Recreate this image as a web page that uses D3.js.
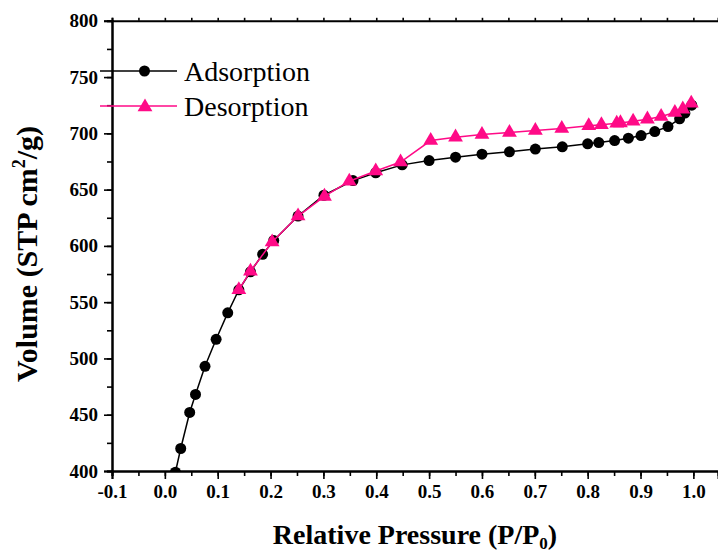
<!DOCTYPE html>
<html>
<head>
<meta charset="utf-8">
<script src="https://cdn.jsdelivr.net/npm/d3@7"></script>
<style>
  body { margin: 0; background: #fff; }
  svg { display: block; }
</style>
</head>
<body>
<svg width="718" height="554"></svg>
<script>
// relative pressure / volume
var adsP = [0.020, 0.030, 0.047, 0.058, 0.076, 0.097, 0.119, 0.140, 0.162, 0.185, 0.206, 0.252,
            0.301, 0.356, 0.399, 0.449, 0.500, 0.550, 0.600, 0.652, 0.701, 0.752, 0.800, 0.821,
            0.851, 0.877, 0.901, 0.927, 0.952, 0.974, 0.984, 0.997];
var adsV = [399, 420, 452, 468, 493, 517, 540.5, 561, 577, 592.5, 604.8, 626.5,
            645, 658, 665, 672, 675.8, 678.8, 681.5, 683.6, 686, 688, 690.7, 691.8,
            693.6, 695.7, 698, 701.6, 706, 712.9, 718, 725];
var desP = [0.996, 0.980, 0.965, 0.939, 0.913, 0.886, 0.862, 0.855, 0.826, 0.802, 0.751, 0.701,
            0.652, 0.600, 0.550, 0.503, 0.446, 0.399, 0.349, 0.302, 0.252, 0.203, 0.162, 0.140];
var desV = [726.8, 721.5, 718.5, 715, 712.6, 710.8, 709.3, 709, 707.6, 706.7, 704.3, 702.5,
            700.8, 699, 696.6, 693.6, 674.5, 666.5, 657.5, 644, 626.5, 603.5, 577.5, 561];
var xTicks = [-0.1, 0.0, 0.1, 0.2, 0.3, 0.4, 0.5, 0.6, 0.7, 0.8, 0.9, 1.0];
var yTicks = [400, 450, 500, 550, 600, 650, 700, 750, 800];
var seriesNames = ["Adsorption", "Desorption"];

var isotherm = {

    show : function() {
        var ads = adsP.map(function(p, i) { return {p: p, v: adsV[i]}; });
        var des = desP.map(function(p, i) { return {p: p, v: desV[i]}; });
        isotherm.dataViz(ads, des);
    },

    dataViz : function(ads, des) {
        var svg = d3.select("svg");
        var pink = "#ff0a87";
        var font = "'Liberation Serif', 'Times New Roman', serif";

        var x = d3.scaleLinear().domain([-0.1, 1.0466]).range([112, 718]);
        var y = d3.scaleLinear().domain([400, 800]).range([471, 20.8]);

        svg.append("defs").append("clipPath").attr("id", "plotClip")
            .append("rect")
            .attr("x", x(-0.1)).attr("y", y(800))
            .attr("width", x(1.0466) - x(-0.1)).attr("height", y(400) - y(800));

        // minor ticks every 0.05 / 25
        var xMinor = d3.range(-2, 21).map(function(i) { return i / 20; });
        var yMinor = d3.range(16, 33).map(function(i) { return i * 25; });
        var fmt = function(d) { return d3.format(".1f")(d).replace("\u2212", "-"); };

        svg.append("g").attr("class", "axis")
            .attr("transform", "translate(0," + y(400) + ")")
            .call(d3.axisBottom(x).tickValues(xMinor).tickSize(5).tickFormat(""));
        svg.append("g").attr("class", "axis xlab")
            .attr("transform", "translate(0," + y(400) + ")")
            .call(d3.axisBottom(x).tickValues(xTicks).tickSize(8).tickPadding(6).tickFormat(fmt));
        svg.append("g").attr("class", "axis")
            .attr("transform", "translate(0," + y(800) + ")")
            .call(d3.axisBottom(x).tickValues(xMinor).tickSize(-3).tickFormat(""));

        svg.append("g").attr("class", "axis")
            .attr("transform", "translate(" + x(-0.1) + ",0)")
            .call(d3.axisLeft(y).tickValues(yMinor).tickSize(5).tickFormat(""));
        svg.append("g").attr("class", "axis ylab")
            .attr("transform", "translate(" + x(-0.1) + ",0)")
            .call(d3.axisLeft(y).tickValues(yTicks).tickSize(8).tickPadding(6));

        svg.selectAll(".axis path.domain").attr("stroke", "#000").attr("stroke-width", 2);
        svg.selectAll(".axis line").attr("stroke", "#000").attr("stroke-width", 1.6);
        svg.selectAll(".axis text")
            .style("font-family", font).style("font-weight", "bold")
            .style("font-size", "19px").attr("fill", "#000");

        var line = d3.line().x(function(d) { return x(d.p); }).y(function(d) { return y(d.v); });
        var plot = svg.append("g").attr("clip-path", "url(#plotClip)");

        plot.append("path").datum(ads)
            .attr("d", line).attr("fill", "none")
            .attr("stroke", "#000").attr("stroke-width", 1.5);
        plot.selectAll("circle.ads").data(ads).enter().append("circle")
            .attr("class", "ads")
            .attr("cx", function(d) { return x(d.p); })
            .attr("cy", function(d) { return y(d.v); })
            .attr("r", 5.5).attr("fill", "#000");

        var tri = d3.symbol().type(d3.symbolTriangle).size(95);
        plot.append("path").datum(des)
            .attr("d", line).attr("fill", "none")
            .attr("stroke", pink).attr("stroke-width", 1.5);
        plot.selectAll("path.des").data(des).enter().append("path")
            .attr("class", "des")
            .attr("transform", function(d) { return "translate(" + x(d.p) + "," + y(d.v) + ")"; })
            .attr("d", tri).attr("fill", pink);

        // legend
        var legend = svg.append("g");
        var legY = [71, 106];
        legend.selectAll("line").data(seriesNames).enter().append("line")
            .attr("x1", 100).attr("x2", 177)
            .attr("y1", function(d, i) { return legY[i]; })
            .attr("y2", function(d, i) { return legY[i]; })
            .attr("stroke", function(d, i) { return i == 0 ? "#000" : pink; })
            .attr("stroke-width", 1.5);
        legend.append("circle").attr("cx", 144.5).attr("cy", legY[0]).attr("r", 5.5).attr("fill", "#000");
        legend.append("path").attr("transform", "translate(145," + (legY[1] + 1) + ")")
            .attr("d", tri).attr("fill", pink);
        legend.selectAll("text").data(seriesNames).enter().append("text")
            .attr("x", 184)
            .attr("y", function(d, i) { return legY[i] + 9.5; })
            .style("font-family", font).style("font-size", "28px")
            .text(function(d) { return d; });

        // axis titles
        var xt = svg.append("text")
            .attr("x", 415).attr("y", 544)
            .attr("text-anchor", "middle")
            .style("font-family", font).style("font-weight", "bold").style("font-size", "28px");
        xt.append("tspan").text("Relative Pressure (P/P");
        xt.append("tspan").attr("dy", 5).style("font-size", "17px").text("0");
        xt.append("tspan").attr("dy", -5).text(")");

        var yt = svg.append("text")
            .attr("transform", "translate(37,254) rotate(-90)")
            .attr("text-anchor", "middle")
            .style("font-family", font).style("font-weight", "bold").style("font-size", "30px");
        yt.append("tspan").text("Volume (STP cm");
        yt.append("tspan").attr("dy", -12).style("font-size", "18px").text("2");
        yt.append("tspan").attr("dy", 12).text("/g)");
    }
}

isotherm.show();
</script>
</body>
</html>
